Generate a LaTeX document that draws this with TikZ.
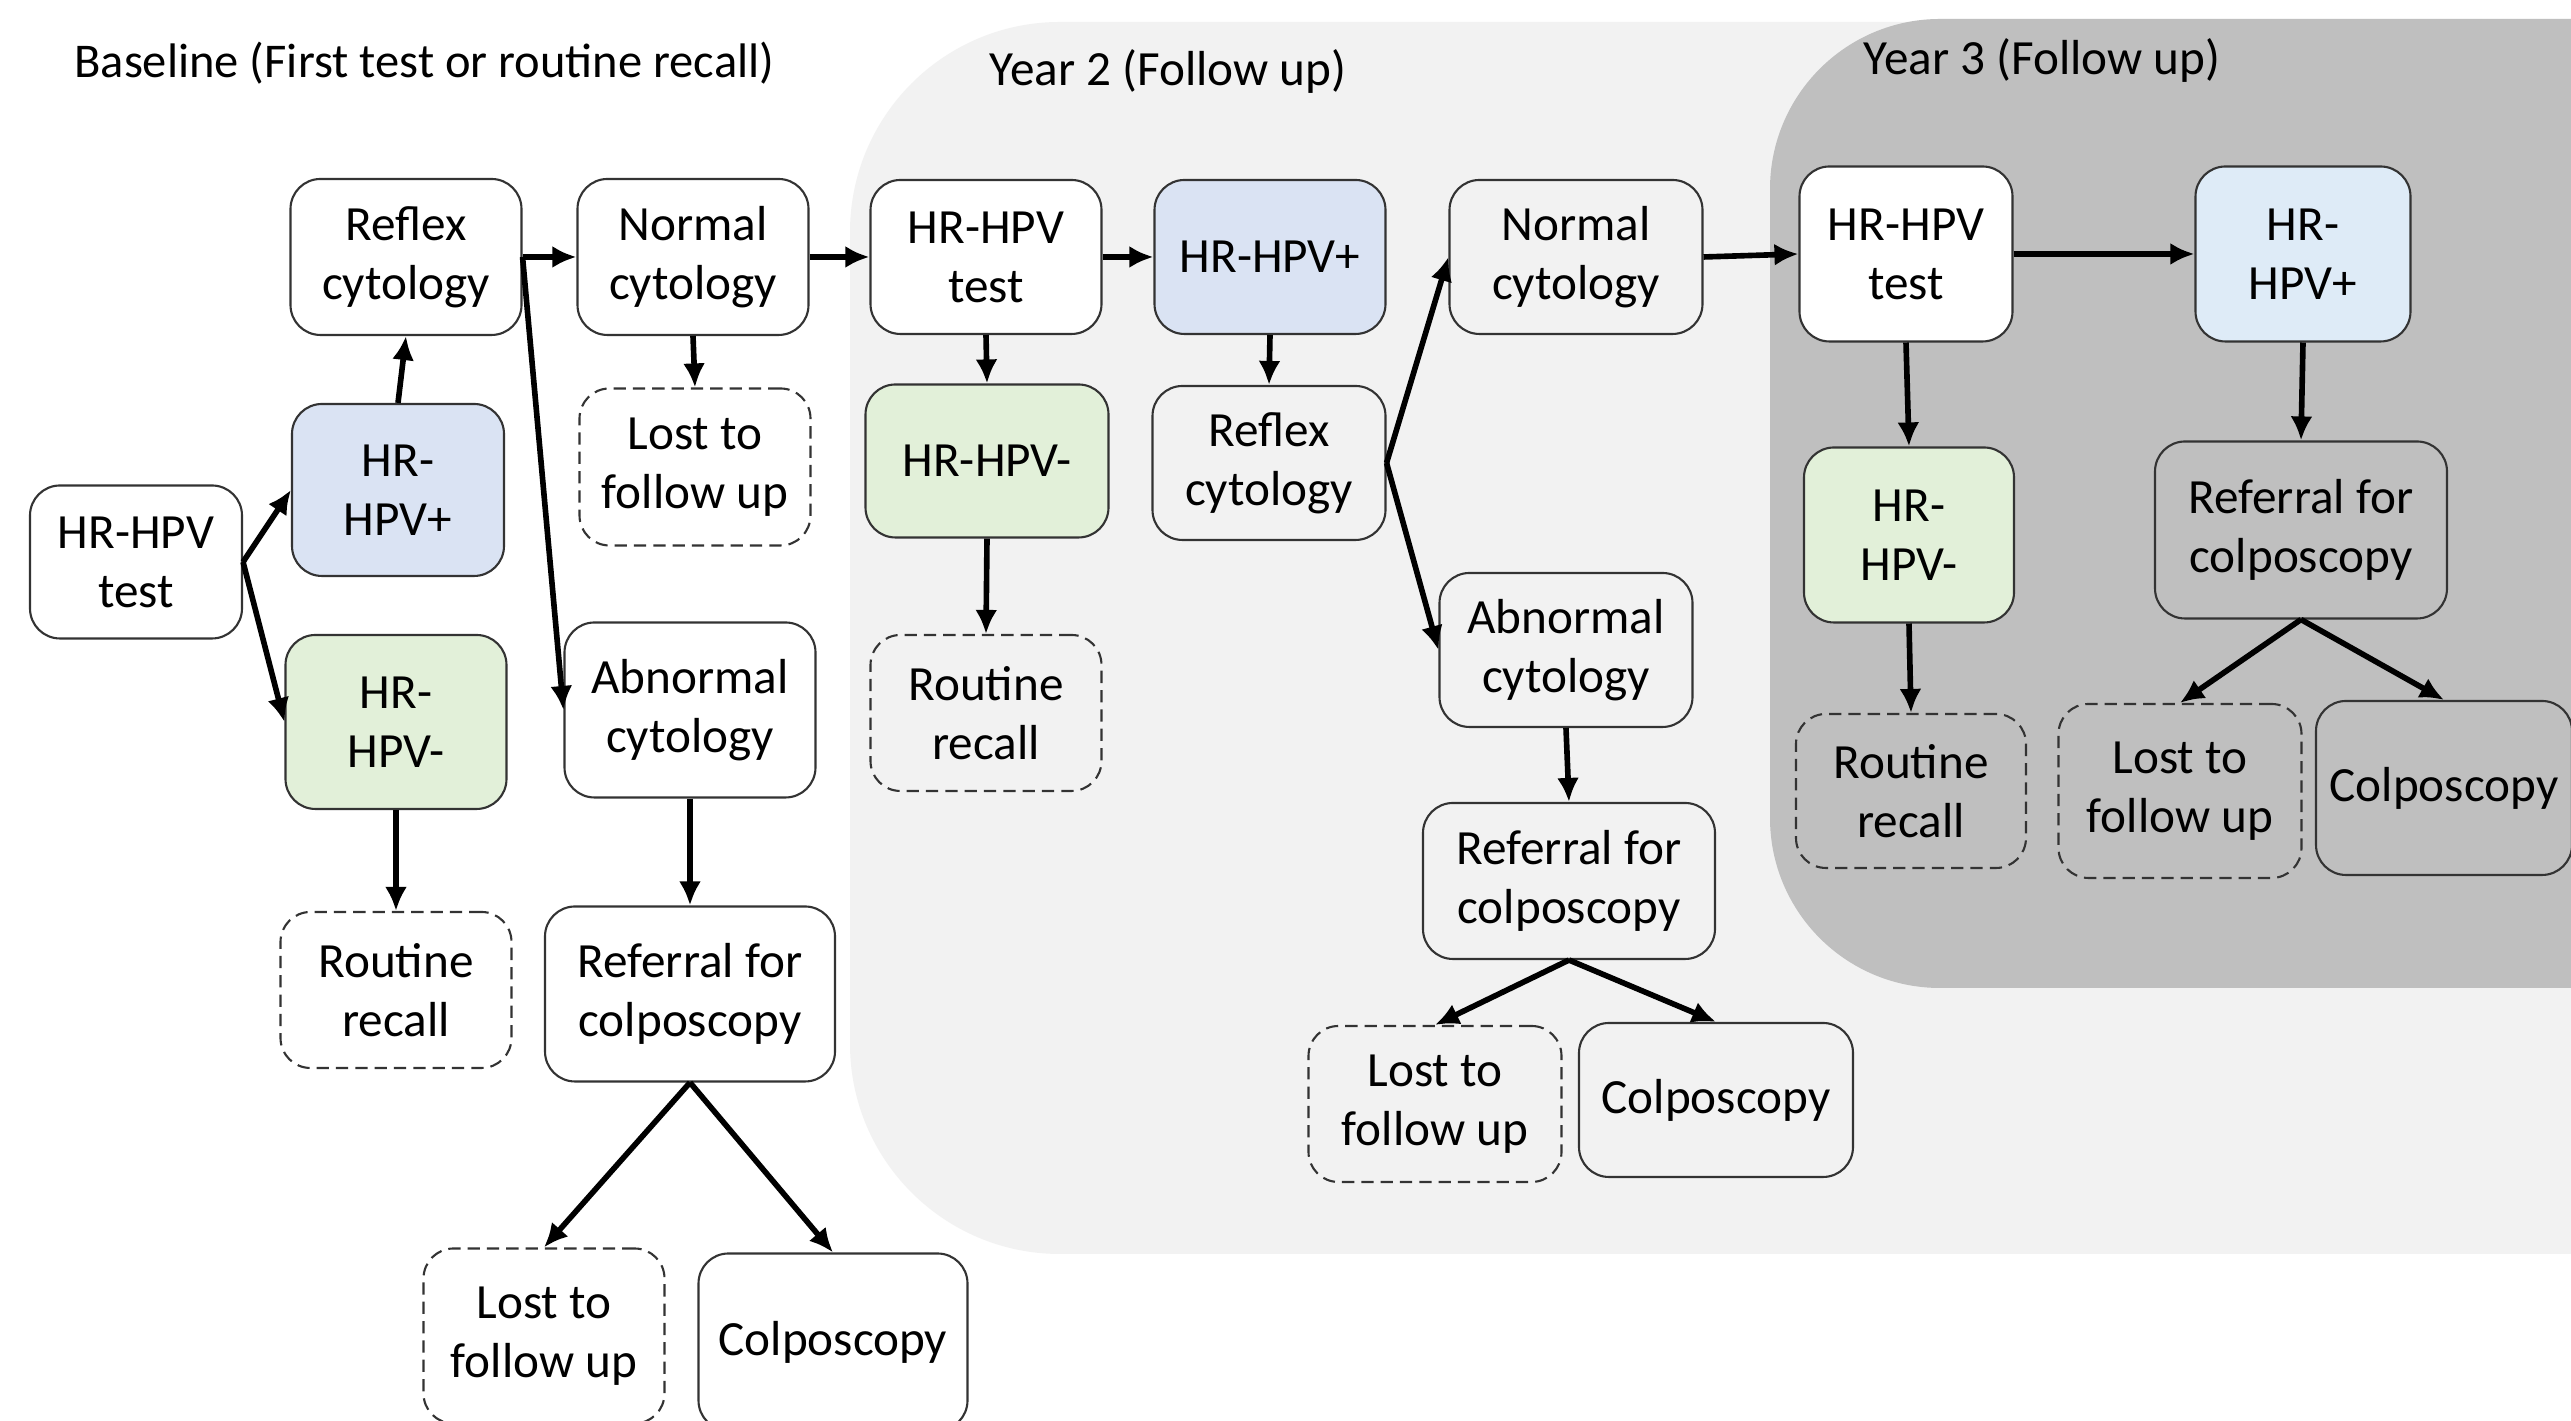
\documentclass[tikz,border=0pt]{standalone}
\usepackage{fontspec}
\setmainfont{Carlito}
\usetikzlibrary{arrows.meta}
\definecolor{hpvblue}{HTML}{DAE3F3}
\definecolor{hpvbluelt}{HTML}{DEEBF7}
\definecolor{hpvgreen}{HTML}{E2F0D9}
\definecolor{yeartwo}{HTML}{F2F2F2}
\definecolor{yearthree}{HTML}{BFBFBF}

\begin{document}
\begin{tikzpicture}
						\tikzset{align=center,font=\fontsize{14}{16.8}\selectfont}
						
						\tikzset{box/.style = {shape=rectangle,draw=black!80,line width=0.6pt,rounded corners=0.3cm,inner sep=2pt}}
						
						\tikzset{dbox/.style = {box,dash pattern=on 3.5pt off 2pt}}
						
						\tikzset{wh/.style 2 args = {minimum width=#1cm,minimum height=#2cm}}
						
						\tikzset{edge/.style = {line width=1.6pt,-{Latex[length=2.4mm,width=2.2mm]}}}
						
						\useasboundingbox (0,0) rectangle (25.71,14.21);
						\fill[white] (0,0) rectangle (25.71,14.21);
						\clip (0,0) rectangle (25.71,14.21);
						
						% panels
						
						\fill[yeartwo,rounded corners=2.1cm] (8.50,1.67) rectangle (28,13.99);
						
						\fill[yearthree,rounded corners=1.7cm] (17.70,4.33) rectangle (28,14.02);
						
						\node[anchor=west,font=\fontsize{13.8}{16.8}\selectfont] (base) at (0.62,13.58) {Baseline (First test or routine recall)};
						
						\node (yr2) at (11.68,13.50) {Year 2 (Follow up)};
						
						\node (yr3) at (20.42,13.61) {Year 3 (Follow up)};
						
						% vertices baseline
						
						\node[box,wh={2.12}{1.53},fill=white] (test1) at (1.36,8.59) {HR-HPV\\test};
						
						\node[box,wh={2.12}{1.72},fill=hpvblue] (pos1) at (3.98,9.31) {HR-\\HPV+};
						
						\node[box,wh={2.21}{1.74},fill=hpvgreen] (neg1) at (3.96,6.99) {HR-\\HPV-};
						
						\node[box,wh={2.31}{1.56}] (refl1) at (4.06,11.64) {Reflex\\cytology};
						
						\node[box,wh={2.31}{1.56}] (norm1) at (6.93,11.64) {Normal\\cytology};
						
						\node[dbox,wh={2.31}{1.57}] (lost1) at (6.95,9.54) {Lost to\\follow up};
						
						\node[box,wh={2.51}{1.75}] (abn1) at (6.90,7.11) {Abnormal\\cytology};
						
						\node[dbox,wh={2.31}{1.56}] (rout1) at (3.96,4.31) {Routine\\recall};
						
						\node[box,wh={2.90}{1.75}] (ref1) at (6.90,4.27) {Referral for\\colposcopy};
						
						\node[dbox,wh={2.41}{1.75}] (lostc1) at (5.44,0.85) {Lost to\\follow up};
						
						\node[box,wh={2.69}{1.77}] (colp1) at (8.33,0.79) {Colposcopy};
						
						% vertices year 2
						
						\node[box,wh={2.31}{1.54},fill=white] (test2) at (9.86,11.64) {HR-HPV\\test};
						
						\node[box,wh={2.31}{1.54},fill=hpvblue] (pos2) at (12.70,11.64) {HR-HPV+};
						
						\node[box,wh={2.43}{1.53},fill=hpvgreen] (neg2) at (9.87,9.60) {HR-HPV-};
						
						\node[dbox,wh={2.31}{1.56}] (rout2) at (9.86,7.08) {Routine\\recall};
						
						\node[box,wh={2.33}{1.54}] (refl2) at (12.69,9.58) {Reflex\\cytology};
						
						\node[box,wh={2.53}{1.54}] (norm2) at (15.76,11.64) {Normal\\cytology};
						
						\node[box,wh={2.53}{1.54}] (abn2) at (15.66,7.71) {Abnormal\\cytology};
						
						\node[box,wh={2.92}{1.56}] (ref2) at (15.69,5.40) {Referral for\\colposcopy};
						
						\node[dbox,wh={2.53}{1.56}] (lostc2) at (14.35,3.17) {Lost to\\follow up};
						
						\node[box,wh={2.74}{1.54}] (colp2) at (17.16,3.21) {Colposcopy};
						
						% vertices year 3
						
						\node[box,wh={2.13}{1.75},fill=white] (test3) at (19.06,11.67) {HR-HPV\\test};
						
						\node[box,wh={2.15}{1.75},fill=hpvbluelt] (pos3) at (23.03,11.67) {HR-\\HPV+};
						
						\node[box,wh={2.10}{1.75},fill=hpvgreen] (neg3) at (19.09,8.86) {HR-\\HPV-};
						
						\node[box,wh={2.92}{1.77}] (ref3) at (23.01,8.91) {Referral for\\colposcopy};
						
						\node[dbox,wh={2.30}{1.54}] (rout3) at (19.11,6.30) {Routine\\recall};
						
						\node[dbox,wh={2.43}{1.74}] (lostc3) at (21.80,6.30) {Lost to\\follow up};
						
						\node[box,wh={2.56}{1.74}] (colp3) at (24.44,6.33) {Colposcopy};
						%edges
						
						\begin{scope}[every edge/.style={draw=black,edge}]
						\draw (test1.east) edge (pos1.west);
						\draw (test1.east) edge (neg1.west);
						\draw (pos1.north) edge (refl1.south);
						\draw (refl1.east) edge (norm1.west);
						\draw (refl1.east) edge (abn1.west);
						\draw (norm1.south) edge (lost1.north);
						\draw (neg1.south) edge (rout1.north);
						\draw (abn1.south) edge (ref1.north);
						\draw (ref1.south) edge (lostc1.north);
						\draw (ref1.south) edge (colp1.north);
						\draw (norm1.east) edge (test2.west);
						
						\draw (test2.east) edge (pos2.west);
						\draw (test2.south) edge (neg2.north);
						\draw (neg2.south) edge (rout2.north);
						\draw (pos2.south) edge (refl2.north);
						\draw (refl2.east) edge (norm2.west);
						\draw (refl2.east) edge (abn2.west);
						\draw (abn2.south) edge (ref2.north);
						\draw (ref2.south) edge (lostc2.north);
						\draw (ref2.south) edge (colp2.north);
						\draw (norm2.east) edge (test3.west);
						
						\draw (test3.east) edge (pos3.west);
						\draw (test3.south) edge (neg3.north);
						\draw (neg3.south) edge (rout3.north);
						\draw (pos3.south) edge (ref3.north);
						\draw (ref3.south) edge (lostc3.north);
						\draw (ref3.south) edge (colp3.north);
						\end{scope}
				\end{tikzpicture}
\end{document}
